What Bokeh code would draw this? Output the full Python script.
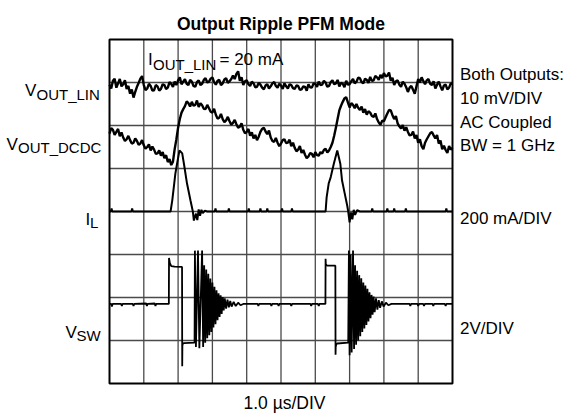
from bokeh.plotting import figure
from bokeh.models import Range1d, Label
from bokeh.embed import file_html
from bokeh.resources import INLINE

# ---------------- data ----------------
TITLE = "Output Ripple PFM Mode"
TIME_DIV_LABEL = "1.0 µs/DIV"
N_DIV_X, N_DIV_Y = 10, 8

# channel set-up (scale per division, zero position in divisions from bottom)
LIN_MV_PER_DIV, LIN_ZERO_DIV = 10, 7.0
DCDC_MV_PER_DIV, DCDC_ZERO_DIV = 10, 6.0
IL_MA_PER_DIV, IL_ZERO_DIV = 200, 4.0
VSW_V_PER_DIV, VSW_ZERO_DIV = 2, 0.93

# sampled output ripple traces (time in µs, 0.05 µs steps)
RIPPLE_T_US = [i / 20 for i in range(201)]
VOUT_LIN_MV = [
    -0.5, -1.4, 0.4, 0.9, -1.2, -0.2, 0.8, -0.9, -0.4, 0.5,
    -1.5, -0.8, -2.6, -1.6, -3.5, -2.2, -1.0, -0.1, 0.9, 1.5,
    -0.6, -1.8, -1.4, -0.3, -0.8, -1.9, -1.8, -0.6, -0.9, -1.9,
    -1.5, -0.4, -0.6, -1.5, -1.2, 0.1, -0.3, -1.0, 0.2, -0.6,
    0.5, 1.2, -0.4, 0.2, 0.8, -0.3, -0.6, 0.6, 0.2, -0.8,
    -1.0, 0.1, 0.5, -0.6, -0.3, 0.6, 1.0, 0.0, 0.2, 0.9,
    1.2, 0.1, -0.5, 0.4, 0.6, -0.6, -0.2, 0.7, 1.0, -0.1,
    0.3, 0.8, 1.6, 0.8, 2.0, 2.6, 0.4, 1.2, -0.6, 0.3,
    0.5, -0.4, -0.8, 0.2, -0.2, -1.1, -1.0, -0.1, -0.5, -1.2,
    -1.6, -0.7, -0.4, -1.4, -0.9, -0.2, 0.1, -0.8, -1.2, -0.3,
    -0.7, -1.5, -0.2, -0.9, -1.4, -0.4, -0.6, -1.3, -1.5, -0.7,
    -0.8, -1.7, -1.6, -0.9, -1.0, -1.9, -0.4, -1.1, -1.2, -0.2,
    -0.3, -1.0, 0.2, -0.6, -0.5, 0.4, 0.0, -1.0, -0.8, 0.1,
    0.5, -0.4, -0.2, 0.6, -0.9, -0.1, -0.3, -1.1, 0.4, -0.5,
    -0.4, 0.3, 0.8, -0.2, 0.2, 1.1, 1.0, 0.1, -0.2, 0.9,
    0.6, -0.1, 1.3, 0.4, 0.5, 1.5, 1.2, 0.6, 1.8, 1.0,
    2.2, 1.4, 1.6, 2.3, 0.4, 1.1, -0.6, 0.3, 0.5, -0.5,
    -1.0, 0.2, -0.3, -1.1, -2.2, -1.2, -0.8, -1.7, -2.6, -0.9,
    0.8, 0.0, 1.2, 0.3, -0.4, 0.5, 0.8, -0.3, -0.6, 0.3,
    -1.4, -0.5, 0.2, -0.9, -1.8, -0.7, -0.5, -1.6, -1.2, -0.2,
    -0.3,
]
VOUT_DCDC_MV = [
    -1.9, -0.6, -1.0, -2.2, -1.5, -0.8, -2.5, -1.6, -2.8, -3.6,
    -3.2, -2.4, -3.4, -4.2, -4.0, -3.0, -3.6, -4.5, -4.2, -3.4,
    -4.6, -5.4, -5.0, -4.4, -5.8, -4.9, -5.6, -6.6, -6.5, -5.8,
    -7.0, -6.2, -7.6, -6.9, -8.5, -7.8, -9.2, -8.4, -5.5, -3.2,
    -0.5, 1.5, 3.0, 3.8, 4.5, 5.6, 5.2, 4.4, 5.5, 4.6,
    4.8, 5.8, 4.3, 5.2, 4.7, 3.9, 3.8, 4.8, 4.0, 3.2,
    3.0, 3.9, 2.5, 1.6, 1.8, 2.7, 1.5, 0.8, 1.2, 2.0,
    1.0, 0.2, 0.6, 1.3, 0.3, -0.5, -0.3, 0.5, -1.0, -1.8,
    -1.5, -0.8, -2.4, -1.6, -3.0, -2.2, -3.4, -2.6, -1.5, -0.8,
    -0.5, -1.4, -2.0, -1.2, -2.8, -3.6, -3.8, -2.9, -4.0, -4.8,
    -4.2, -3.4, -3.2, -4.1, -4.0, -3.3, -4.8, -4.0, -5.2, -6.0,
    -5.6, -4.8, -6.4, -5.7, -6.8, -7.6, -7.2, -6.4, -6.6, -7.4,
    -6.2, -6.9, -7.0, -6.2, -6.5, -5.7, -5.4, -6.3, -5.8, -5.0,
    -4.0, -2.4, -0.5, 1.5, 3.5, 4.6, 5.5, 6.3, 6.6, 5.4,
    4.2, 5.2, 4.8, 4.0, 5.0, 4.1, 3.6, 4.4, 3.0, 3.8,
    2.5, 3.3, 3.0, 2.2, 2.0, 2.8, 1.5, 0.7, 0.2, 1.1,
    1.0, 1.9, 2.8, 3.6, 3.5, 2.4, 1.5, 2.2, 0.5, -0.2,
    -0.7, 0.1, -1.2, -0.4, -1.5, -2.3, -2.2, -1.4, -3.0, -2.2,
    -4.0, -3.2, -4.8, -5.5, -4.0, -3.2, -2.5, -1.8, -1.5, -2.3,
    -3.0, -2.2, -4.2, -3.5, -5.5, -4.7, -5.7, -6.4, -4.8, -5.6,
    -5.2,
]

# inductor current (time in µs, current in mA)
IL_T_US = [
    0.00, 0.04, 0.06, 0.08, 0.64, 0.66, 0.68,
    1.78, 1.83, 1.88, 1.92, 1.97, 2.04, 2.12, 2.17, 2.26, 2.36, 2.43,
    2.46, 2.52, 2.56, 2.60, 2.64, 2.68, 2.72, 2.78, 2.85,
    3.07, 3.09, 3.11, 3.46, 3.48, 3.50, 4.04, 4.06, 4.08,
    4.38, 4.40, 4.42, 4.58, 4.60, 4.62, 5.01, 5.03, 5.05, 5.30, 5.32, 5.34,
    6.30, 6.33, 6.39, 6.45, 6.54, 6.64, 6.73, 6.78, 6.86, 6.93, 6.96,
    7.00, 7.04, 7.08, 7.12, 7.16, 7.22, 7.30,
    7.64, 7.66, 7.68, 8.08, 8.10, 8.12, 8.28, 8.30, 8.32, 8.62, 8.64, 8.66,
    9.80, 9.82, 9.84, 10.00,
]
IL_MA = [
    0, 0, 14, 0, 0, 14, 0,
    0, 52, 120, 176, 222, 284, 270, 222, 130, 52, 0,
    -42, -10, -40, 10, -20, 8, -8, 4, 0,
    0, 14, 0, 0, 14, 0, 0, 14, 0,
    0, 14, 0, 0, 14, 0, 0, 14, 0, 0, 14, 0,
    0, 66, 130, 160, 222, 284, 222, 144, 82, 28, 0,
    -50, -4, -36, 8, -16, 6, 0,
    0, 14, 0, 0, 14, 0, 0, 14, 0, 0, 14, 0,
    0, 14, 0, 0,
]

# switch node voltage (time in µs, volts)
VSW_T_US = [
    0.00, 0.05, 0.07, 0.09, 0.34, 0.36, 0.38, 0.68, 0.70, 0.72,
    1.07, 1.09, 1.11, 1.32, 1.34, 1.36, 1.72,
    1.73, 1.735, 1.76, 1.80, 1.90, 2.115,
    2.12, 2.125, 2.14, 2.17, 2.48,
    2.49, 2.52, 2.58, 2.62, 2.70, 2.73, 2.76, 2.79, 2.82, 2.85,
    2.88, 2.91, 2.94, 2.97, 3.00, 3.03, 3.06, 3.09, 3.12, 3.15,
    3.18, 3.21, 3.24, 3.27, 3.30, 3.33, 3.36, 3.40, 3.44, 3.48,
    3.52, 3.56, 3.62, 3.68, 3.75, 3.82, 3.90,
    4.32, 4.34, 4.36, 4.70, 4.72, 4.74, 4.91, 4.93, 4.95,
    5.28, 5.30, 5.32, 5.86, 5.88, 5.90, 6.08, 6.10, 6.12, 6.295,
    6.30, 6.305, 6.33, 6.36, 6.585,
    6.59, 6.595, 6.61, 6.64, 6.96,
    6.98, 7.00, 7.03, 7.06, 7.10, 7.13, 7.16, 7.19, 7.22, 7.25,
    7.28, 7.31, 7.34, 7.37, 7.40, 7.43, 7.46, 7.49, 7.52, 7.55,
    7.58, 7.61, 7.64, 7.67, 7.70, 7.73, 7.77, 7.81, 7.85, 7.89,
    7.94, 7.99, 8.06, 8.13, 8.22,
    8.75, 8.77, 8.79, 8.98, 9.00, 9.02, 9.15, 9.17, 9.19,
    9.42, 9.44, 9.46, 9.78, 9.80, 9.82, 10.00,
]
VSW_V = [
    1.84, 1.84, 1.72, 1.84, 1.84, 1.74, 1.84, 1.84, 1.74, 1.84,
    1.86, 1.74, 1.84, 1.86, 1.74, 1.84, 1.84,
    1.84, 3.98, 3.74, 3.60, 3.58, 3.56,
    -1.06, -0.10, 0.00, 0.02, 0.04,
    4.32, -0.16, 4.32, -0.22, 4.32, -0.16, 3.64, 0.04, 3.44, 0.24,
    3.24, 0.38, 3.02, 0.54, 2.84, 0.74, 2.64, 0.90, 2.48, 1.08,
    2.34, 1.24, 2.24, 1.38, 2.16, 1.54, 2.10, 1.62, 2.04, 1.68,
    1.98, 1.72, 1.94, 1.74, 1.90, 1.78, 1.84,
    1.84, 1.74, 1.84, 1.84, 1.74, 1.84, 1.84, 1.74, 1.84,
    1.84, 1.74, 1.84, 1.84, 1.74, 1.84, 1.84, 1.74, 1.84, 1.84,
    3.94, 3.70, 3.64, 3.62, 3.62,
    -0.52, -0.16, -0.04, 0.00, 0.04,
    4.32, -0.54, 4.14, -0.42, 4.32, -0.26, 3.64, -0.06, 3.38, 0.14,
    3.18, 0.34, 3.04, 0.54, 2.84, 0.70, 2.70, 0.86, 2.54, 1.02,
    2.38, 1.18, 2.26, 1.34, 2.18, 1.46, 2.10, 1.58, 2.02, 1.66,
    1.96, 1.72, 1.90, 1.78, 1.84,
    1.84, 1.74, 1.84, 1.84, 1.74, 1.84, 1.84, 1.74, 1.84,
    1.84, 1.74, 1.84, 1.84, 1.74, 1.84, 1.84,
]

RIGHT_NOTES = ["Both Outputs:", "10 mV/DIV", "AC Coupled", "BW = 1 GHz", "200 mA/DIV", "2V/DIV"]

# ---------------- layout ----------------
W, H = 566, 413
FL, FR, FT, FB = 109, 114, 39, 30          # scope screen position on the canvas (px)
PX_DX = (W - FL - FR) / N_DIV_X            # px per horizontal division
PX_DY = (H - FT - FB) / N_DIV_Y            # px per vertical division

# the plotting frame covers the whole canvas; the scope screen is divisions 0..10 x 0..8
x_rng = Range1d(-FL / PX_DX, N_DIV_X + FR / PX_DX)
y_rng = Range1d(-FB / PX_DY, N_DIV_Y + FT / PX_DY)

p = figure(width=W, height=H, output_backend="svg", toolbar_location=None,
           x_range=x_rng, y_range=y_rng,
           x_axis_location=None, y_axis_location=None,
           min_border=0)
p.background_fill_color = "white"
p.border_fill_color = "white"
p.outline_line_color = None
p.xgrid.visible = False
p.ygrid.visible = False


def channel_range(per_div, zero_div):
    return Range1d((y_rng.start - zero_div) * per_div, (y_rng.end - zero_div) * per_div)


p.extra_y_ranges = {
    "lin": channel_range(LIN_MV_PER_DIV, LIN_ZERO_DIV),
    "dcdc": channel_range(DCDC_MV_PER_DIV, DCDC_ZERO_DIV),
    "il": channel_range(IL_MA_PER_DIV, IL_ZERO_DIV),
    "vsw": channel_range(VSW_V_PER_DIV, VSW_ZERO_DIV),
}

# graticule
xt = list(range(1, N_DIV_X))
yt = list(range(1, N_DIV_Y))
p.segment(x0=xt, y0=[0] * len(xt), x1=xt, y1=[N_DIV_Y] * len(xt), line_color="#4a4a4a", line_width=1.3)
p.segment(x0=[0] * len(yt), y0=yt, x1=[N_DIV_X] * len(yt), y1=yt, line_color="#4a4a4a", line_width=1.3)

# traces
p.line(RIPPLE_T_US, VOUT_LIN_MV, y_range_name="lin", line_color="black", line_width=2.4)
p.line(RIPPLE_T_US, VOUT_DCDC_MV, y_range_name="dcdc", line_color="black", line_width=2.4)
p.line(IL_T_US, IL_MA, y_range_name="il", line_color="black", line_width=2)
p.line(VSW_T_US, VSW_V, y_range_name="vsw", line_color="black", line_width=1.8)

# screen border
p.quad(left=[0], right=[N_DIV_X], bottom=[0], top=[N_DIV_Y], fill_color=None,
       line_color="black", line_width=2)

# ---------------- texts ----------------
FONT = "Liberation Sans"
MAIN, SUB = "17px", "15px"


def gx(px):   # canvas pixel -> division coordinate
    return (px - FL) / PX_DX


def gy(py):
    return (H - FB - py) / PX_DY


def text(px, py, s, size=MAIN, align="left", style="normal"):
    p.add_layout(Label(x=gx(px), y=gy(py), text=s, text_font=FONT, text_font_size=size,
                       text_align=align, text_baseline="alphabetic",
                       text_font_style=style, text_color="black"))


text(280.5, 23, TITLE, size="17.5px", align="center", style="bold")
text(284, 402, TIME_DIV_LABEL, size="17.5px", align="center")

# in-frame annotation I_OUT_LIN = 20 mA
text(147.5, 58.5, "I")
text(152.5, 63.5, "OUT_LIN", size=SUB)
text(219, 58.5, "= 20 mA")

# channel names
text(24.5, 90, "V")
text(36, 93.5, "OUT_LIN", size=SUB)
text(6, 143.5, "V")
text(17.5, 147, "OUT_DCDC", size=SUB)
text(85, 218.5, "I")
text(89.5, 222, "L", size=SUB)
text(65, 331.5, "V")
text(76, 335, "SW", size=SUB)

# right-hand notes
for s, by in zip(RIGHT_NOTES, [74, 98.3, 121.7, 145, 218.3, 328.3]):
    text(459.5, by, s)

open("out.html", "w").write(file_html(p, INLINE))
